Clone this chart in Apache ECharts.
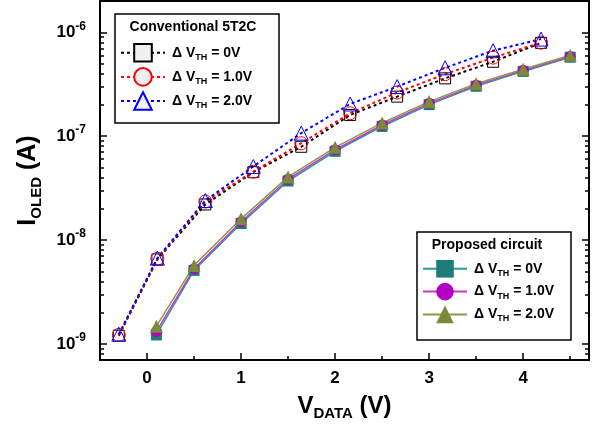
<!DOCTYPE html>
<html>
<head>
<meta charset="utf-8">
<script src="https://cdn.jsdelivr.net/npm/echarts@6/dist/echarts.min.js"></script>
<style>html,body{margin:0;padding:0;background:#fff}#main{width:605px;height:426px}</style>
</head>
<body>
<div id="main"></div>
<script>
var FONT = '"Liberation Sans", Arial, sans-serif';

// conventional 5T2C
var convX = [-0.3, 0.11, 0.62, 1.13, 1.64, 2.16, 2.66, 3.17, 3.68, 4.19];
var conv0 = [1.2e-9, 6.5e-9, 2.2e-8, 4.5e-8, 7.9e-8, 1.6e-7, 2.4e-7, 3.6e-7, 5.2e-7, 7.9e-7];
var conv1 = [1.22e-9, 6.6e-9, 2.35e-8, 4.55e-8, 8.55e-8, 1.66e-7, 2.63e-7, 3.95e-7, 5.7e-7, 7.95e-7];
var conv2 = [1.24e-9, 6.7e-9, 2.4e-8, 5.1e-8, 1.07e-7, 2.04e-7, 3.0e-7, 4.55e-7, 6.65e-7, 8.6e-7];

// proposed circuit
var propX = [0.1, 0.5, 1, 1.5, 2, 2.5, 3, 3.5, 4, 4.5];
var prop0 = [1.22e-9, 5.1e-9, 1.44e-8, 3.7e-8, 7.15e-8, 1.24e-7, 2.01e-7, 3.02e-7, 4.2e-7, 5.75e-7];
var prop1 = [1.32e-9, 5.3e-9, 1.5e-8, 3.85e-8, 7.4e-8, 1.28e-7, 2.07e-7, 3.1e-7, 4.3e-7, 5.85e-7];
var prop2 = [1.48e-9, 5.7e-9, 1.6e-8, 4.05e-8, 7.8e-8, 1.34e-7, 2.15e-7, 3.2e-7, 4.4e-7, 6.0e-7];

var dvLabels = ['0V', '1.0V', '2.0V'];
var xTicks = [0, 1, 2, 3, 4];
var xMinor = [0.5, 1.5, 2.5, 3.5, 4.5];
var yTicks = [1e-9, 1e-8, 1e-7, 1e-6];
var yMinor = [8e-10, 9e-10];
[1e-9, 1e-8, 1e-7].forEach(function (d) {
	[2, 3, 4, 5, 6, 7, 8, 9].forEach(function (k) { yMinor.push(k * d); });
});

function pairs(xs, ys) {
	return xs.map(function (x, i) { return [x, ys[i]]; });
}

var myChart = echarts.init(document.getElementById('main'));

function conv(name, data, sym, size, c) {
	return {
		name: name, type: 'line', data: data, symbol: sym, symbolSize: size,
		itemStyle: { color: 'rgba(255,255,255,0)', borderColor: c, borderWidth: 1 },
		lineStyle: { color: c, width: 2, type: [3, 3] },
		emphasis: { disabled: true }, z: 2
	};
}
function prop(name, data, sym, size, c, lc) {
	return {
		name: name, type: 'line', data: data, symbol: sym, symbolSize: size,
		itemStyle: { color: c },
		lineStyle: { color: lc, width: 1.5 },
		emphasis: { disabled: true }, z: 3
	};
}

var legendText = {
	fontFamily: FONT,
	rich: {
		a: { fontSize: 14, fontWeight: 'bold', fontFamily: FONT, lineHeight: 18, color: '#000' },
		s: { fontSize: 9, fontWeight: 'bold', fontFamily: FONT, lineHeight: 12, verticalAlign: 'bottom', color: '#000' }
	},
	padding: [0, 0, 0, 2]
};
function legendFmt(name) {
	return '{a|Δ V}{s|TH}{a| = ' + dvLabels[+name.slice(1)] + '}';
}

var yLabelFmt = function (v) {
	return '{b|10}{s|' + Math.round(Math.log10(v)) + '}';
};

var tickStyle = { width: 1.5, color: '#000' };
var frameLine = { onZero: false, lineStyle: { color: '#000', width: 2 } };
var noLine = { show: false, onZero: false };

myChart.setOption({
	animation: false,
	grid: { left: 100, right: 16, top: 1, bottom: 66 },
	xAxis: [{
		type: 'value', min: -0.5, max: 4.7, position: 'bottom',
		name: '{m|V}{d|DATA}{m| (V)}', nameLocation: 'middle', nameGap: 31,
		nameTextStyle: {
			rich: {
				m: { fontSize: 24, fontWeight: 'bold', fontFamily: FONT, lineHeight: 30, color: '#000' },
				d: { fontSize: 15, fontWeight: 'bold', fontFamily: FONT, lineHeight: 16, verticalAlign: 'bottom', color: '#000' }
			}
		},
		splitLine: { show: false },
		axisLine: frameLine,
		axisTick: { inside: true, length: 7, customValues: xTicks, lineStyle: tickStyle },
		axisLabel: { customValues: xTicks, margin: 10, fontSize: 17, fontWeight: 'bold', fontFamily: FONT, color: '#000' }
	}, {
		type: 'value', min: -0.5, max: 4.7, position: 'bottom',
		splitLine: { show: false }, axisLine: noLine, axisLabel: { show: false },
		axisTick: { inside: true, length: 4, customValues: xMinor, lineStyle: tickStyle }
	}, {
		type: 'value', min: -0.5, max: 4.7, position: 'top',
		splitLine: { show: false }, axisLabel: { show: false }, axisTick: { show: false },
		axisLine: frameLine
	}],
	yAxis: [{
		type: 'log', min: 7e-10, max: 2e-6, position: 'left',
		name: '{m|I}{d|OLED}{m| (A)}', nameLocation: 'middle', nameGap: 56,
		nameTextStyle: {
			rich: {
				m: { fontSize: 25, fontWeight: 'bold', fontFamily: FONT, lineHeight: 32, color: '#000' },
				d: { fontSize: 15, fontWeight: 'bold', fontFamily: FONT, lineHeight: 16, verticalAlign: 'bottom', color: '#000' }
			}
		},
		splitLine: { show: false },
		axisLine: frameLine,
		axisTick: { inside: true, length: 7, customValues: yTicks, lineStyle: tickStyle },
		axisLabel: {
			customValues: yTicks, margin: 14, formatter: yLabelFmt,
			rich: {
				b: { fontSize: 17, fontWeight: 'bold', fontFamily: FONT, lineHeight: 24, color: '#000' },
				s: { fontSize: 12, fontWeight: 'bold', fontFamily: FONT, lineHeight: 12, verticalAlign: 'top', color: '#000' }
			}
		}
	}, {
		type: 'log', min: 7e-10, max: 2e-6, position: 'left',
		splitLine: { show: false }, axisLine: noLine, axisLabel: { show: false },
		axisTick: { inside: true, length: 4, customValues: yMinor, lineStyle: tickStyle }
	}, {
		type: 'log', min: 7e-10, max: 2e-6, position: 'right',
		splitLine: { show: false }, axisLabel: { show: false },
		axisLine: frameLine,
		axisTick: { inside: true, length: 7, customValues: yTicks, lineStyle: tickStyle }
	}, {
		type: 'log', min: 7e-10, max: 2e-6, position: 'right',
		splitLine: { show: false }, axisLine: noLine, axisLabel: { show: false },
		axisTick: { inside: true, length: 4, customValues: yMinor, lineStyle: tickStyle }
	}],
	legend: [{
		data: ['c0', 'c1', 'c2'], orient: 'vertical', left: 120, top: 43,
		padding: 0, itemWidth: 44, itemHeight: 22, itemGap: 4.5,
		itemStyle: { color: '#f0f0f0', borderWidth: 2 },
		selectedMode: false, formatter: legendFmt, textStyle: legendText
	}, {
		data: ['p0', 'p1', 'p2'], orient: 'vertical', left: 422, top: 260,
		padding: 0, itemWidth: 44, itemHeight: 22, itemGap: 5,
		selectedMode: false, formatter: legendFmt, textStyle: legendText
	}],
	graphic: [
		{ type: 'rect', shape: { x: 115, y: 14, width: 164, height: 109 }, style: { fill: 'none', stroke: '#000', lineWidth: 1.5 }, z: 10 },
		{ type: 'text', x: 193, y: 27, style: { text: 'Conventional 5T2C', font: 'bold 14px ' + FONT, fill: '#000', align: 'center', verticalAlign: 'middle' }, z: 10 },
		{ type: 'rect', shape: { x: 417, y: 232, width: 154, height: 108 }, style: { fill: 'none', stroke: '#000', lineWidth: 1.5 }, z: 10 },
		{ type: 'text', x: 487, y: 245, style: { text: 'Proposed circuit', font: 'bold 14px ' + FONT, fill: '#000', align: 'center', verticalAlign: 'middle' }, z: 10 }
	],
	series: [
		conv('c0', pairs(convX, conv0), 'rect', 11, '#000000'),
		conv('c1', pairs(convX, conv1), 'circle', 13, '#ff0000'),
		conv('c2', pairs(convX, conv2), 'triangle', 14, '#0000ff'),
		prop('p0', pairs(propX, prop0), 'rect', 11, '#1d7d78', '#2a9a96'),
		prop('p1', pairs(propX, prop1), 'circle', 11, '#b400c4', '#cc33cc'),
		prop('p2', pairs(propX, prop2), 'triangle', 13, '#7a8a38', '#8a9a48')
	]
});
</script>
</body>
</html>
